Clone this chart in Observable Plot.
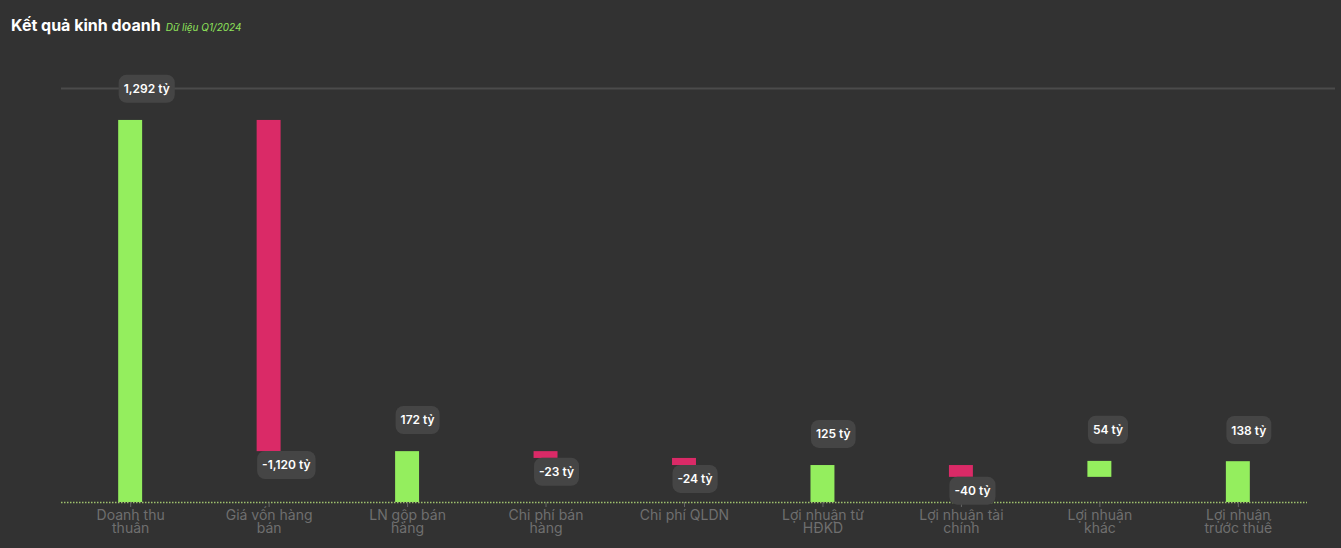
<!DOCTYPE html>
<html>
<head>
<meta charset="utf-8">
<script src="https://cdn.jsdelivr.net/npm/d3@7"></script>
<script src="https://cdn.jsdelivr.net/npm/@observablehq/plot@0.6"></script>
<style>
  html, body { margin: 0; padding: 0; background: #323232; }
  body { width: 1341px; height: 548px; overflow: hidden; font-family: Inter, "Noto Sans", sans-serif; }
  #title { height: 40px; box-sizing: border-box; padding: 15px 0 0 11px; white-space: nowrap; }
  #title .t { color: #ffffff; font-weight: 700; font-size: 16px; }
  #title .s { color: #8fe35a; font-style: italic; font-size: 10px; margin-left: 5px; }
</style>
</head>
<body>
<div id="title"><span class="t">Kết quả kinh doanh</span><span class="s">Dữ liệu Q1/2024</span></div>
<div id="chart"></div>
<script>
const categories = [
  "Doanh thu thuần", "Giá vốn hàng bán", "LN gộp bán hàng", "Chi phí bán hàng",
  "Chi phí QLDN", "Lợi nhuận từ HĐKD", "Lợi nhuận tài chính", "Lợi nhuận khác", "Lợi nhuận trước thuế"
];
const tickLabels = [
  "Doanh thu\nthuần", "Giá vốn hàng\nbán", "LN gộp bán\nhàng", "Chi phí bán\nhàng",
  "Chi phí QLDN", "Lợi nhuận từ\nHĐKD", "Lợi nhuận tài\nchính", "Lợi nhuận\nkhác", "Lợi nhuận\ntrước thuế"
];
const values = [1292, -1120, 172, -23, -24, 125, -40, 54, 138];
const kinds = ["total", "delta", "total", "delta", "delta", "total", "delta", "delta", "total"];
const gridValues = [1400];

// build waterfall table
let running = 0;
const rows = categories.map((c, i) => {
  let y1, y2;
  if (kinds[i] === "total") { y1 = 0; y2 = values[i]; running = values[i]; }
  else { y1 = running; y2 = running + values[i]; running = y2; }
  const v = values[i];
  return {
    cat: c, value: v, y1, y2,
    top: Math.max(y1, y2), bottom: Math.min(y1, y2),
    label: (v < 0 ? "-" : "") + d3.format(",")(Math.abs(v)) + " tỷ",
    pos: v >= 0
  };
});

const green = "#94ee5e", pink = "#da2a67";

const chart = Plot.plot({
  width: 1341,
  height: 508,
  marginTop: 48,
  marginBottom: 46,
  marginLeft: 61,
  marginRight: 6,
  style: { background: "transparent", fontFamily: "Inter, 'Noto Sans', sans-serif" },
  x: { domain: categories, range: [61, 1307], paddingInner: 0.827, paddingOuter: 0.413, round: false, label: null },
  y: { domain: [0, 1400], axis: null },
  marks: [
    Plot.ruleY(gridValues, { stroke: "#4b4b4b", strokeWidth: 2 }),
    Plot.barY(rows, { x: "cat", y1: "y1", y2: "y2", fill: d => d.pos ? green : pink }),
    Plot.ruleY([0], { stroke: "#9fc26e", strokeWidth: 1.5, strokeDasharray: "1.5,1.5", insetRight: 28 }),
    Plot.axisX({
      tickSize: 5, tickPadding: 3, stroke: "#666",
      tickFormat: d => tickLabels[categories.indexOf(d)],
      fill: "#6f6f6f", fontSize: 14, lineHeight: 0.95, label: null
    }),
    Plot.text(rows.filter(d => d.pos), {
      x: "cat", y: "top", text: "label", textAnchor: "start", lineAnchor: "middle",
      dx: -7, dy: -31, fill: "#ffffff", fontSize: 12, fontWeight: 600
    }),
    Plot.text(rows.filter(d => !d.pos), {
      x: "cat", y: "bottom", text: "label", textAnchor: "start", lineAnchor: "middle",
      dx: -7, dy: 14, fill: "#ffffff", fontSize: 12, fontWeight: 600
    })
  ]
});
document.getElementById("chart").appendChild(chart);

// rounded backgrounds behind value labels
chart.querySelectorAll('g[aria-label="text"] text').forEach(t => {
  const b = t.getBBox();
  const r = document.createElementNS("http://www.w3.org/2000/svg", "rect");
  const padX = 5, h = 28;
  r.setAttribute("x", b.x - padX);
  r.setAttribute("y", b.y + b.height / 2 - h / 2);
  r.setAttribute("width", b.width + padX * 2);
  r.setAttribute("height", h);
  r.setAttribute("rx", 8);
  r.setAttribute("fill", "#454545");
  r.setAttribute("stroke", "none");
  const tr = t.getAttribute("transform");
  if (tr) r.setAttribute("transform", tr);
  t.parentNode.insertBefore(r, t);
});
</script>
</body>
</html>
